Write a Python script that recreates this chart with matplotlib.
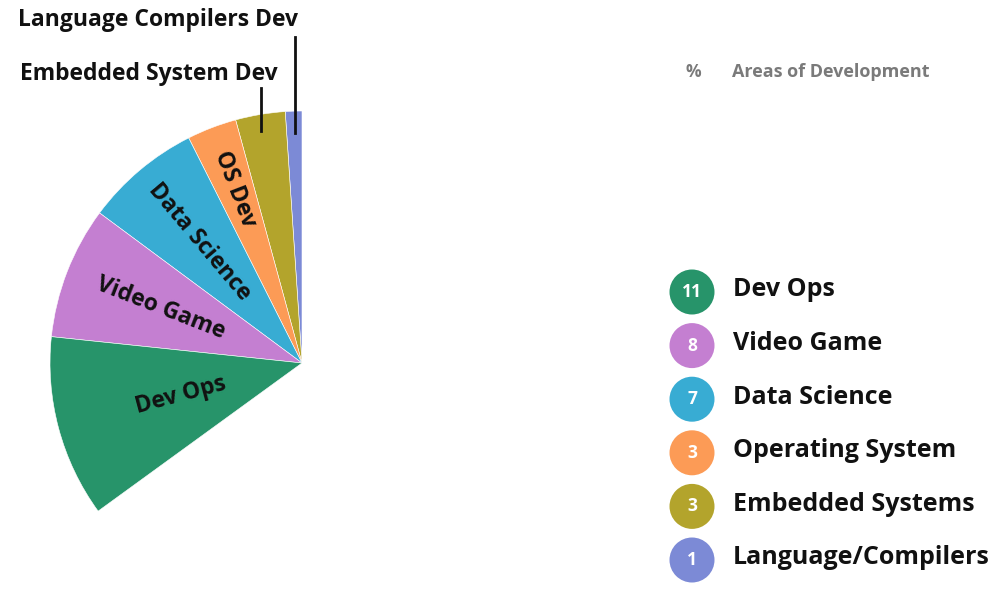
import math
import matplotlib
matplotlib.use("Agg")
import matplotlib.pyplot as plt
from matplotlib.patches import Circle

plt.rcParams['font.family'] = ['Open Sans', 'DejaVu Sans']

# data (legend order)
areas = ["Dev Ops", "Video Game", "Data Science", "Operating System",
         "Embedded Systems", "Language/Compilers"]
counts = [11, 8, 7, 3, 3, 1]
slice_labels = ["Dev Ops", "Video Game", "Data Science", "OS Dev",
                "Embedded System Dev", "Language Compilers Dev"]
colors = ["#27946a", "#c47fd1", "#38acd3", "#fc9b56", "#b3a42c", "#7c8ad6"]

H = 593
fig = plt.figure(figsize=(10, 5.93), dpi=100)
ax = fig.add_axes([0, 0, 1, 1])

# the fan covers about 126 degrees, counter-clockwise from the top
deg_per_unit = 126 / sum(counts)
cx, cy, R = 302, H - 363, 252
vals = counts[::-1]
fracs = [v * deg_per_unit / 360 for v in vals]
wedges, _ = ax.pie(fracs, normalize=False, startangle=90, counterclock=True,
                   colors=colors[::-1], center=(cx, cy), radius=R,
                   wedgeprops=dict(edgecolor="white", linewidth=0.4))
ax.set_xlim(0, 1000)
ax.set_ylim(0, H)
ax.set_aspect("auto")
ax.axis("off")

# labels inside the big slices, running along the radius
label_r = {"Dev Ops": 0.5, "Video Game": 0.6, "Data Science": 0.63, "OS Dev": 0.74}
for w, name in zip(wedges, slice_labels[::-1]):
    if name not in label_r:
        continue
    mid = (w.theta1 + w.theta2) / 2
    rr = label_r[name] * R
    x = cx + rr * math.cos(math.radians(mid))
    y = cy + rr * math.sin(math.radians(mid))
    ax.text(x, y, name, rotation=mid - 180, rotation_mode="anchor",
            ha="center", va="center", fontsize=16.5, fontweight="bold",
            color="#111111")

# outside labels for the thin slices
ax.text(149, H - 74, "Embedded System Dev", ha="center", va="center",
        fontsize=16.5, fontweight="bold", color="#111111")
ax.plot([261, 261], [H - 88, H - 131], color="#111111", lw=2)
ax.text(158, H - 20, "Language Compilers Dev", ha="center", va="center",
        fontsize=16.5, fontweight="bold", color="#111111")
ax.plot([295, 295], [H - 37, H - 133], color="#111111", lw=2)

# header
ax.text(693, H - 72, "%", ha="center", va="center", fontsize=12.5,
        fontweight="bold", color="#7a7a7a")
ax.text(732, H - 72, "Areas of Development", ha="left", va="center",
        fontsize=13, fontweight="bold", color="#7a7a7a")

# legend with counts in circles
for i, (name, n, c) in enumerate(zip(areas, counts, colors)):
    y = H - (292 + i * 53.6)
    ax.add_patch(Circle((692, y), 22.5, color=c, lw=0))
    ax.text(692, y, str(n), ha="center", va="center", fontsize=12.5,
            fontweight="bold", color="white")
    ax.text(733, y + 2, name, ha="left", va="center", fontsize=18,
            fontweight="bold", color="#111111")

fig.savefig("out.png", dpi=100, facecolor="white")
